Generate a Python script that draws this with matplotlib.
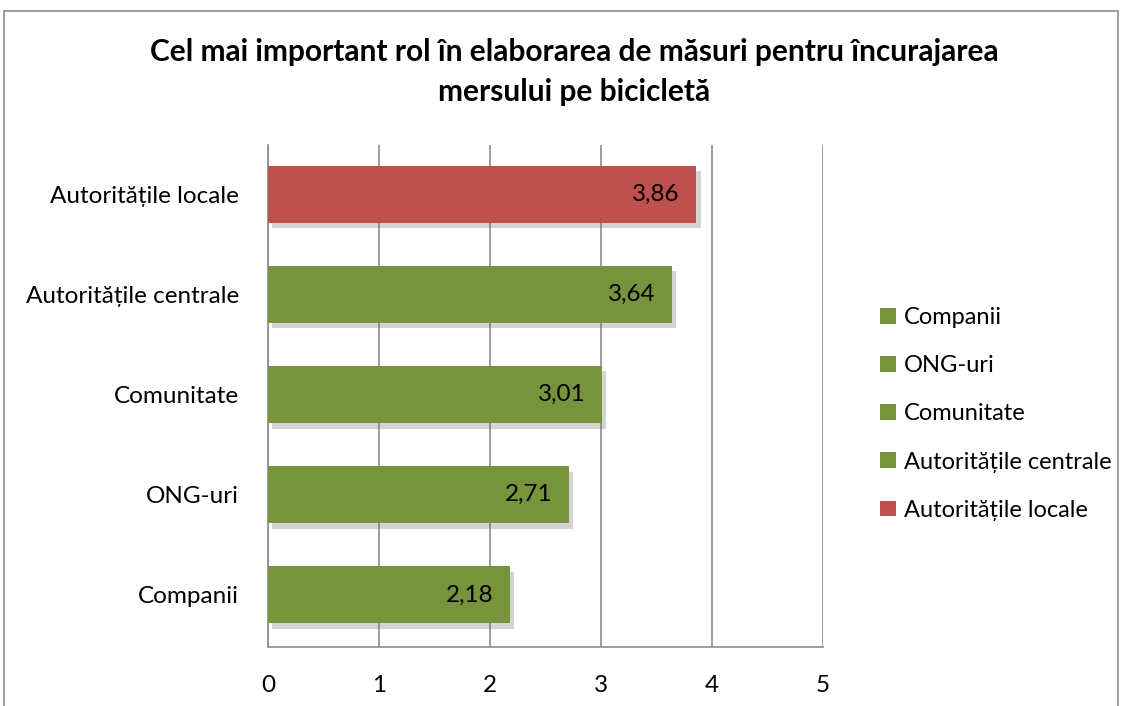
import matplotlib.pyplot as plt
from matplotlib.patches import Rectangle, Patch
import matplotlib.patheffects as pe

plt.rcParams['font.family'] = ['Lato', 'DejaVu Sans']

# Date
categorii = ['Companii', 'ONG-uri', 'Comunitate', 'Autoritățile centrale', 'Autoritățile locale']
valori = [2.18, 2.71, 3.01, 3.64, 3.86]
culori = ['#77933C', '#77933C', '#77933C', '#77933C', '#C0504D']
titlu = 'Cel mai important rol în elaborarea de măsuri pentru încurajarea\nmersului pe bicicletă'

fig = plt.figure(figsize=(11.24, 7.06), dpi=100)
ax = fig.add_axes([268 / 1124, 1 - 647 / 706, (823 - 268) / 1124, (647 - 145) / 706])

# chenarul graficului
fig.patches.append(Rectangle((4 / 1124, -0.1), (1118 - 4) / 1124, 1.1 - 11 / 706,
                             transform=fig.transFigure, fill=False,
                             edgecolor='#8c8c8c', linewidth=1.2))

umbra = [pe.SimplePatchShadow(offset=(3, -4), shadow_rgbFace='#707070', alpha=0.3), pe.Normal()]
bare = ax.barh(range(len(categorii)), valori, height=0.57, color=culori, zorder=3)
for b in bare:
    b.set_path_effects(umbra)

for i, v in enumerate(valori):
    ax.text(v - 0.15, i, f'{v:.2f}'.replace('.', ','), ha='right', va='center',
            fontsize=17.5, color='black', zorder=4)

ax.set_xlim(0, 5)
ax.set_ylim(-0.52, 4.49)
ax.set_xticks(range(6))
ax.set_yticks(range(len(categorii)))
ax.set_yticklabels(categorii)
ax.tick_params(axis='both', length=0, labelsize=17.5)
ax.tick_params(axis='x', pad=20)
ax.tick_params(axis='y', pad=21)
ax.grid(axis='x', color='#8c8c8c', linewidth=1.2, zorder=0)
for s in ['top', 'right']:
    ax.spines[s].set_visible(False)
ax.spines['left'].set_color('#8c8c8c')
ax.spines['bottom'].set_color('#8c8c8c')
ax.spines['left'].set_linewidth(1.2)
ax.spines['bottom'].set_linewidth(1.2)

fig.text(0.511, 1 - 72 / 706, titlu, ha='center', va='center', fontsize=21.5,
         fontweight='bold', linespacing=1.55)

handles = [Patch(facecolor=culori[i], label=categorii[i]) for i in range(len(categorii))]
fig.legend(handles=handles, loc='center left', bbox_to_anchor=(859 / 1124, 1 - 414 / 706),
           frameon=False, fontsize=17, handlelength=0.65, handleheight=0.65,
           handletextpad=0.35, labelspacing=1.15)

fig.savefig('out.png', dpi=100)
